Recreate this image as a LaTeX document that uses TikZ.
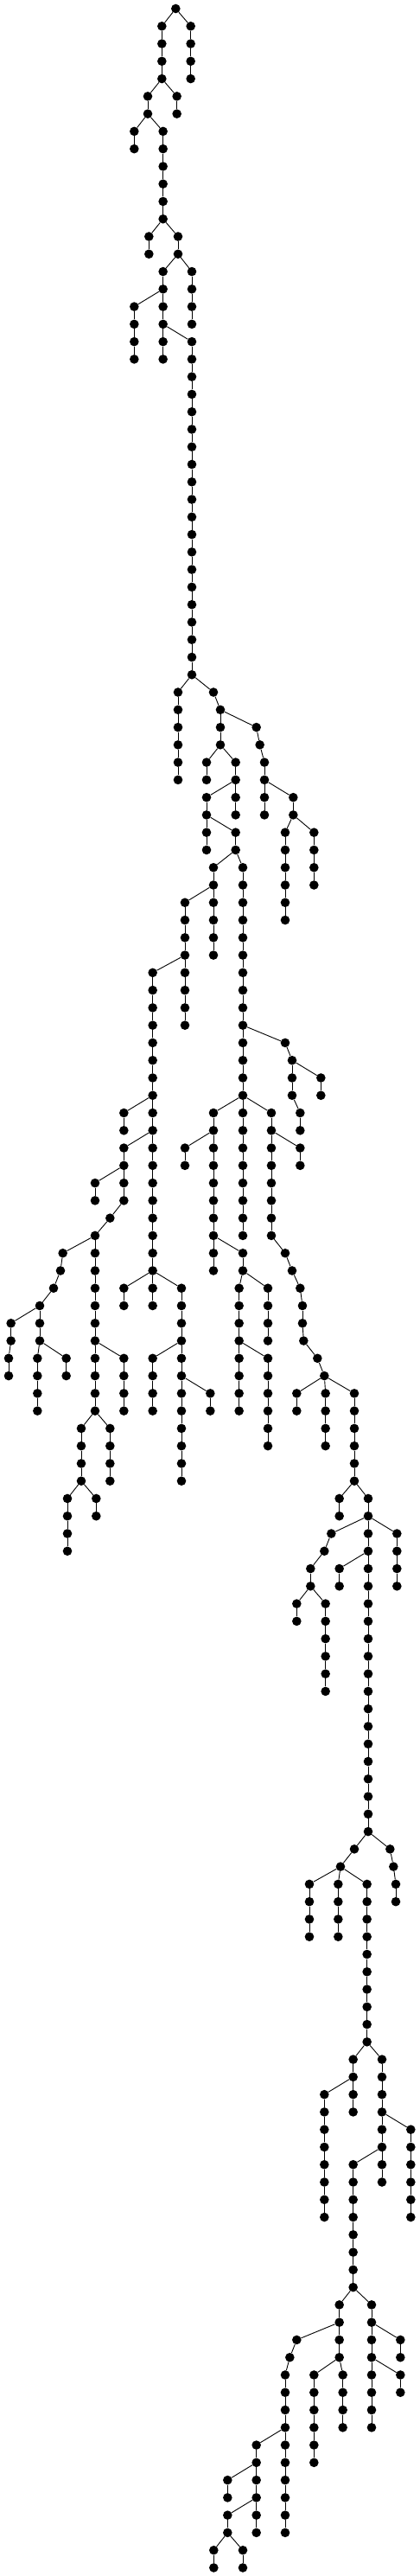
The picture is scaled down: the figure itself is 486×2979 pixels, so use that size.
\documentclass[tikz,border=0pt]{standalone}
\usepackage{tikz}
\tikzset{
  vtx/.style={circle,fill=black,draw=none,inner sep=0pt,minimum size=10.6pt},
  lnk/.style={draw=black,line width=0.9pt}
}
\newcommand\vch[3]{%
  \foreach \l in {#2,...,#3}{\node[vtx] (n\l-#1) at ({#1/3},{-10-20.27*\l}) {};}%
  \ifnum#2<#3\relax
    \foreach \l in {#2,...,#3}{\ifnum\l<#3\relax\pgfmathtruncatemacro\lp{\l+1}\draw[lnk] (n\l-#1) -- (n\lp-#1);\fi}%
  \fi}
\newcommand\edg[3]{\pgfmathtruncatemacro\lq{#1+1}\draw[lnk] (n#1-#2) -- (n\lq-#3);}
\begin{document}
\begin{tikzpicture}[x=1pt,y=1pt]
\useasboundingbox (0,0) rectangle (486,-2979);
\vch{610}{0}{0}
\vch{562}{1}{4}
\vch{662}{1}{4}
\edg{0}{610}{562}\edg{0}{610}{662}
\vch{513}{5}{6}\vch{614}{5}{6}
\edg{4}{562}{513}\edg{4}{562}{614}
\vch{466}{7}{8}\vch{566}{7}{12}
\edg{6}{513}{466}\edg{6}{513}{566}
\vch{517}{13}{14}\vch{618}{13}{14}
\edg{12}{566}{517}\edg{12}{566}{618}
\vch{566}{15}{20}\vch{666}{15}{18}
\edg{14}{618}{566}\edg{14}{618}{666}
\vch{466}{17}{20}\edg{16}{566}{466}
\vch{666}{19}{38}\edg{18}{566}{666}
\vch{618}{39}{44}\vch{741}{39}{39}
\edg{38}{666}{618}\edg{38}{666}{741}
\vch{765}{40}{42}\edg{39}{741}{765}
\vch{890}{41}{41}\edg{40}{765}{890}
\vch{717}{43}{44}\vch{818}{43}{46}
\edg{42}{765}{717}\edg{42}{765}{818}
\vch{717}{45}{48}\edg{44}{818}{717}
\vch{818}{47}{48}\edg{46}{717}{818}
\vch{741}{49}{54}\vch{843}{49}{70}
\edg{48}{818}{741}\edg{48}{818}{843}
\vch{902}{42}{42}\edg{41}{890}{902}
\vch{918}{43}{46}\edg{42}{902}{918}
\vch{1018}{45}{46}\edg{44}{918}{1018}
\vch{990}{47}{52}\vch{1090}{47}{50}
\edg{46}{1018}{990}\edg{46}{1018}{1090}
\vch{642}{51}{58}\edg{50}{741}{642}
\vch{530}{55}{74}\edg{54}{642}{530}
\vch{990}{59}{59}\edg{58}{843}{990}
\vch{1014}{60}{62}\edg{59}{990}{1014}
\vch{1114}{61}{62}\edg{60}{1014}{1114}
\vch{1042}{63}{64}\edg{62}{1014}{1042}
\vch{430}{63}{64}\edg{62}{530}{430}
\vch{430}{65}{68}\edg{64}{530}{430}
\vch{330}{67}{68}\edg{66}{430}{330}
\vch{382}{69}{69}\edg{68}{430}{382}
\vch{330}{70}{80}\edg{69}{382}{330}
\vch{218}{71}{71}\edg{70}{330}{218}
\vch{210}{72}{72}\edg{71}{218}{210}
\vch{186}{73}{73}\edg{72}{210}{186}
\vch{138}{74}{76}\edg{73}{186}{138}
\vch{38}{75}{76}\edg{74}{138}{38}
\vch{30}{77}{78}\edg{76}{38}{30}
\vch{130}{77}{80}\vch{230}{77}{78}
\edg{76}{138}{130}\edg{76}{138}{230}
\vch{430}{73}{74}\vch{630}{73}{84}
\edg{72}{530}{430}\edg{72}{530}{630}
\vch{530}{77}{80}\edg{76}{630}{530}
\vch{730}{79}{80}\edg{78}{630}{730}
\vch{430}{77}{80}\edg{76}{330}{430}
\vch{282}{81}{84}\vch{382}{81}{84}
\edg{80}{330}{282}\edg{80}{330}{382}
\vch{234}{85}{88}\vch{334}{85}{86}
\edg{84}{282}{234}\edg{84}{282}{334}
\vch{741}{63}{72}\vch{942}{63}{70}
\edg{62}{843}{741}\edg{62}{843}{942}
\vch{642}{65}{66}\edg{64}{741}{642}
\vch{843}{71}{72}\edg{70}{741}{843}
\vch{830}{73}{80}\vch{930}{73}{76}
\edg{72}{843}{830}\edg{72}{843}{930}
\vch{930}{77}{82}\edg{76}{830}{930}
\vch{1042}{65}{66}\edg{64}{942}{1042}
\vch{990}{71}{71}\edg{70}{942}{990}
\vch{1014}{72}{72}\edg{71}{990}{1014}
\vch{1042}{73}{73}\edg{72}{1014}{1042}
\vch{1050}{74}{75}\edg{73}{1042}{1050}
\vch{1054}{76}{76}\edg{75}{1050}{1054}
\vch{1102}{77}{77}\edg{76}{1054}{1102}
\vch{1126}{78}{78}\edg{77}{1102}{1126}
\vch{1030}{79}{80}\vch{1130}{79}{82}\vch{1230}{79}{84}
\edg{78}{1126}{1030}\edg{78}{1126}{1130}\edg{78}{1126}{1230}
\vch{1178}{85}{86}\vch{1278}{85}{104}
\edg{84}{1230}{1178}\edg{84}{1230}{1278}
\vch{1150}{87}{87}\edg{86}{1278}{1150}
\vch{1126}{88}{88}\edg{87}{1150}{1126}
\vch{1078}{89}{90}\edg{88}{1126}{1078}
\vch{1030}{91}{92}\vch{1130}{91}{96}
\edg{90}{1078}{1030}\edg{90}{1078}{1130}
\vch{1378}{87}{90}\edg{86}{1278}{1378}
\vch{1178}{89}{90}\edg{88}{1278}{1178}
\vch{1354}{105}{105}\edg{104}{1278}{1354}
\vch{1366}{106}{106}\edg{105}{1354}{1366}
\vch{1374}{107}{108}\edg{106}{1366}{1374}
\vch{1230}{105}{105}\edg{104}{1278}{1230}
\vch{1182}{106}{106}\edg{105}{1230}{1182}
\vch{1074}{107}{110}\vch{1174}{107}{110}\vch{1274}{107}{116}
\edg{106}{1182}{1074}\edg{106}{1182}{1174}\edg{106}{1182}{1274}
\vch{1226}{117}{120}\vch{1326}{117}{124}
\edg{116}{1274}{1226}\edg{116}{1274}{1326}
\vch{1126}{119}{126}\edg{118}{1226}{1126}
\vch{1426}{121}{126}\edg{120}{1326}{1426}
\vch{1226}{123}{130}\edg{122}{1326}{1226}
\vch{1178}{131}{134}\vch{1290}{131}{138}
\edg{130}{1226}{1178}\edg{130}{1226}{1290}
\vch{1030}{133}{133}\edg{132}{1178}{1030}
\vch{1006}{134}{134}\edg{133}{1030}{1006}
\vch{990}{135}{144}\edg{134}{1006}{990}
\vch{1090}{135}{140}\vch{1190}{135}{138}
\edg{134}{1178}{1090}\edg{134}{1178}{1190}
\vch{1390}{133}{134}\edg{132}{1290}{1390}
\vch{1390}{135}{136}\edg{134}{1290}{1390}
\vch{890}{139}{144}\edg{138}{990}{890}
\vch{790}{141}{142}\edg{140}{890}{790}
\vch{790}{143}{144}\edg{142}{890}{790}
\vch{742}{145}{146}\vch{843}{145}{146}
\edg{144}{790}{742}\edg{144}{790}{843}
\end{tikzpicture}
\end{document}
